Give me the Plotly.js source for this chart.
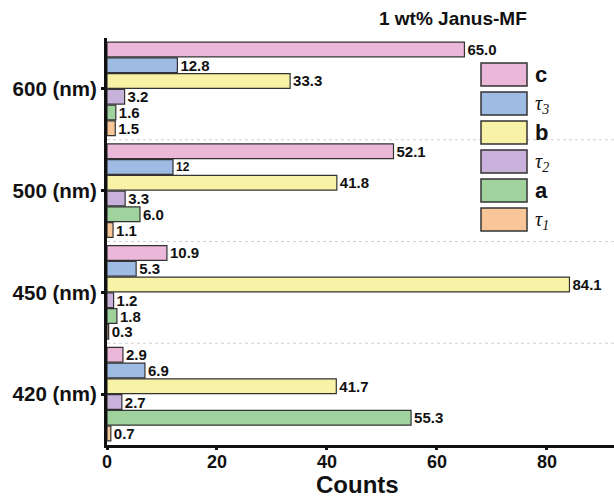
<!DOCTYPE html>
<html>
<head>
<meta charset="utf-8">
<script src="https://cdn.plot.ly/plotly-3.0.1.min.js"></script>
<style>html,body{margin:0;padding:0;background:#fff;}#chart{width:614px;height:498px;}</style>
</head>
<body>
<div id="chart"></div>
<script>
// Categories (bottom to top)
const categories = ["420 (nm)", "450 (nm)", "500 (nm)", "600 (nm)"];
// Series values in category order
const tau1 = [0.7, 0.3, 1.1, 1.5];
const aVals = [55.3, 1.8, 6.0, 1.6];
const tau2 = [2.7, 1.2, 3.3, 3.2];
const bVals = [41.7, 84.1, 41.8, 33.3];
const tau3 = [6.9, 5.3, 12, 12.8];
const cVals = [2.9, 10.9, 52.1, 65.0];
// Value labels as printed
const tau1Labels = ["0.7", "0.3", "1.1", "1.5"];
const aLabels = ["55.3", "1.8", "6.0", "1.6"];
const tau2Labels = ["2.7", "1.2", "3.3", "3.2"];
const bLabels = ["41.7", "84.1", "41.8", "33.3"];
const tau3Labels = ["6.9", "5.3", "12", "12.8"];
const cLabels = ["2.9", "10.9", "52.1", "65.0"];
const seriesNames = ["τ1", "a", "τ2", "b", "τ3", "c"];
const legendLabels = ["<i>τ<sub>1</sub></i>", "a", "<i>τ<sub>2</sub></i>", "b", "<i>τ<sub>3</sub></i>", "c"];
const xTicks = [0, 20, 40, 60, 80];

const colors = ["#F8C698", "#9FD29C", "#C8B2DC", "#F7F2A6", "#9EBBE3", "#EBB8DA"];
const values = [tau1, aVals, tau2, bVals, tau3, cVals];
const labels = [tau1Labels, aLabels, tau2Labels, bLabels, tau3Labels, cLabels];

const traces = values.map((v, i) => ({
  type: "bar",
  orientation: "h",
  name: seriesNames[i],
  y: categories,
  x: v,
  text: labels[i],
  textposition: "outside",
  constraintext: "none",
  cliponaxis: false,
  textfont: {family: "Liberation Sans, Arial, sans-serif", size: labels[i].map(t => t === "12" ? 12 : 15), color: "#111", weight: "bold"},
  marker: {color: colors[i], line: {color: "#333", width: 1.2}},
  showlegend: false,
  hoverinfo: "x+name"
}));

const shapes = [];
[0.5, 1.5, 2.5].forEach(yv => {
  shapes.push({type: "line", xref: "paper", yref: "y", x0: 0, x1: 1, y0: yv, y1: yv,
    line: {color: "#D0D0D0", width: 1, dash: "dot"}, layer: "below"});
});

const annotations = [];
// Custom legend (top to bottom: c, τ3, b, τ2, a, τ1)
const legTop = 63, pitch = 29, boxW = 46, boxH = 23, boxX = 481;
const W = 614, H = 498, mL = 107, mR = 0, mT = 38, mB = 53;
const pw = W - mL - mR, ph = H - mT - mB;
const px = x => (x - mL) / pw;
const py = y => 1 - (y - mT) / ph;
for (let k = 0; k < 6; k++) {
  const i = 5 - k;
  const top = legTop + k * pitch;
  shapes.push({type: "rect", xref: "paper", yref: "paper",
    x0: px(boxX), x1: px(boxX + boxW), y0: py(top + boxH), y1: py(top),
    fillcolor: colors[i], line: {color: "#333", width: 1.5}});
  const isTau = seriesNames[i].startsWith("τ");
  annotations.push({xref: "paper", yref: "paper", x: px(boxX + boxW + 6), y: py(top + boxH / 2 + (isTau ? 1 : 0)),
    xanchor: "left", yanchor: "middle", showarrow: false, text: legendLabels[i],
    font: isTau ? {family: "Liberation Serif, Times New Roman, serif", size: 20, color: "#111"}
                : {family: "Liberation Sans, Arial, sans-serif", size: 22, color: "#111", weight: "bold"}});
}
annotations.push({xref: "paper", yref: "paper", x: px(453), y: py(18), xanchor: "center", yanchor: "middle",
  showarrow: false, text: "1 wt% Janus-MF",
  font: {family: "Liberation Sans, Arial, sans-serif", size: 19, color: "#111", weight: "bold"}});
annotations.push({xref: "paper", yref: "paper", x: px(357), y: py(485), xanchor: "center", yanchor: "middle",
  showarrow: false, text: "Counts", borderpad: 0,
  font: {family: "Liberation Sans, Arial, sans-serif", size: 24, color: "#111", weight: "bold"}});

const layout = {
  width: W, height: H,
  margin: {l: mL, r: mR, t: mT, b: mB, pad: 0},
  paper_bgcolor: "#fff", plot_bgcolor: "#fff",
  barmode: "group", bargap: 0.07, bargroupgap: 0.06,
  font: {family: "Liberation Sans, Arial, sans-serif", color: "#111"},
  xaxis: {
    range: [0, 92.2], tickvals: xTicks, ticktext: xTicks.map(String),
    showgrid: false, zeroline: false, showline: true, linecolor: "#111", linewidth: 3,
    ticks: "outside", ticklen: 2, tickwidth: 3, tickcolor: "#111",
    ticklabelstandoff: -4,
    tickfont: {size: 18, weight: "bold", color: "#111"}
  },
  yaxis: {
    type: "category", categoryorder: "array", categoryarray: categories,
    range: [-0.5, 3.5],
    showgrid: false, zeroline: false, showline: true, linecolor: "#111", linewidth: 3,
    ticks: "outside", ticklen: 3, tickwidth: 3, tickcolor: "#111",
    tickfont: {size: 20.5, weight: "bold", color: "#111"}
  },
  shapes: shapes,
  annotations: annotations,
  showlegend: false
};

Plotly.newPlot("chart", traces, layout, {displayModeBar: false, staticPlot: true});
</script>
</body>
</html>
